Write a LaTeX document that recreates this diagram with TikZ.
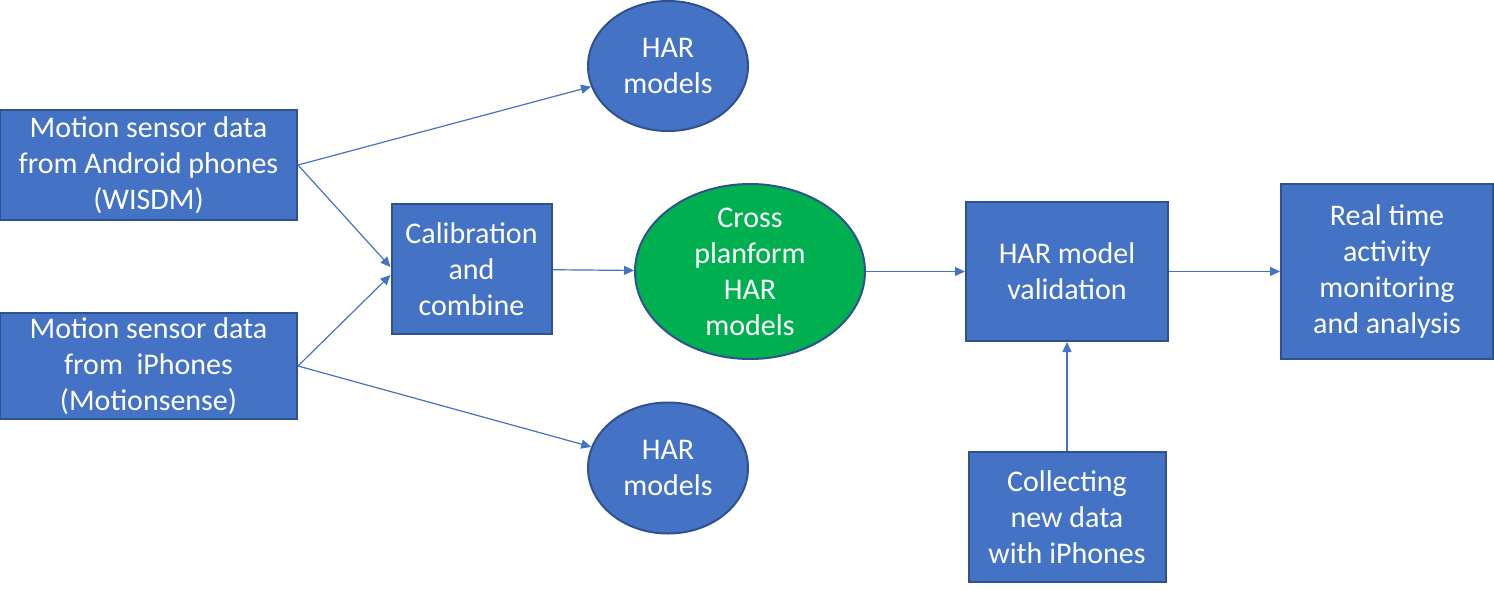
\documentclass[tikz,border=0pt]{standalone}
\usepackage{fontspec}
\setmainfont{Carlito}
\usetikzlibrary{shapes.geometric,arrows.meta}

\definecolor{boxblue}{HTML}{4472C4}
\definecolor{rimblue}{HTML}{2F528F}
\definecolor{crossgreen}{HTML}{00B050}

\begin{document}
\begin{tikzpicture}
		[x=0.5pt,y=-0.5pt,
		 b/.style= {rectangle,draw=rimblue,fill=boxblue,line width=1pt,text=white,
			align=center,inner sep=0pt,font=\fontsize{15}{18}\selectfont},
		 e/.style= {b,ellipse},
		 a/.style= {-{Triangle[length=5pt,width=4.5pt]},draw=boxblue,line width=0.6pt}]

		\useasboundingbox (0,0) rectangle (1494,590);

		\node[b,minimum width=106pt,minimum height=87.5pt] (real) at (1387,271.5)
			{Real time\\activity\\monitoring\\and analysis};

		\node[b,minimum width=101pt,minimum height=69.5pt] (valid) at (1067,271.5)
			{HAR model\\validation}
			edge [a]	(real)
		;

		\node[b,minimum width=98.5pt,minimum height=65pt] (collect) at (1067,517)
			{Collecting\\new data\\with iPhones}
			edge [a]	(valid)
		;

		\node[e,fill=crossgreen,inner ysep=-4pt,minimum width=115pt,minimum height=87.5pt] (cross) at (750,271.5)
			{Cross\\planform\\HAR\\models}
			edge [a]	(valid)
		;

		\node[b,minimum width=80pt,minimum height=65pt] (calib) at (471.5,269)
			{Calibration\\and\\combine}
			edge [a]	(cross)
		;

		\node[e,minimum width=80pt,minimum height=65pt] (hartop) at (668,66) {HAR\\models};
		\node[e,minimum width=80pt,minimum height=65.5pt] (harbot) at (668,468) {HAR\\models};

		\node[b,minimum width=148.5pt,minimum height=55pt] (android) at (148.5,165)
			{Motion sensor data\\from Android phones\\(WISDM)};
		\path (android.east)
			edge [a]	(hartop)
			edge [a]	([yshift=1pt]calib.west)
		;

		\node[b,minimum width=148.5pt,minimum height=53pt] (iphone) at (148.5,366)
			{Motion sensor data\\from~ iPhones\\(Motionsense)};
		\path (iphone.east)
			edge [a]	([yshift=-3pt]calib.west)
			edge [a]	(harbot)
		;

	\end{tikzpicture}
\end{document}
